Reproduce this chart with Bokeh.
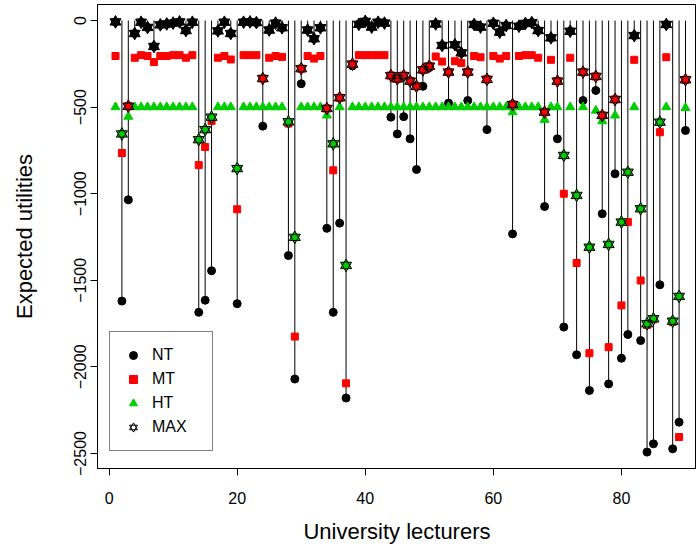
from bokeh.plotting import figure
from bokeh.models import Range1d, Legend, LegendItem, ColumnDataSource, FixedTicker
from bokeh.embed import file_html
from bokeh.resources import INLINE

lecturer = list(range(1, 91))
nt = [-8, -1620, -1035, -75, -10, -40, -150, -25, -20, -15,
      -8, -58, -10, -1685, -1615, -1445, -60, -10, -75, -1635,
      -10, -8, -12, -610, -55, -15, -42, -1357, -2070, -365,
      -55, -105, -42, -1200, -1685, -1170, -2180, -262, -22, -5,
      -38, -10, -15, -558, -655, -555, -683, -860, -380, -272,
      -20, -144, -477, -140, -187, -462, -23, -38, -630, -16,
      -67, -29, -1232, -33, -17, -12, -58, -1074, -100, -683,
      -1770, -62, -1930, -462, -2136, -404, -1116, -2098, -885, -1950,
      -1813, -87, -1848, -2492, -2444, -1526, -23, -2473, -2319, -635]
mt = [-205, -765, -495, -215, -200, -205, -240, -205, -205, -200,
      -200, -215, -200, -835, -730, -580, -215, -205, -225, -1090,
      -200, -200, -200, -335, -215, -205, -210, -595, -1825, -278,
      -205, -220, -205, -508, -865, -446, -2095, -252, -200, -200,
      -200, -200, -200, -318, -337, -318, -350, -380, -285, -264,
      -208, -237, -298, -235, -246, -298, -205, -212, -340, -205,
      -220, -205, -485, -205, -200, -200, -215, -529, -227, -350,
      -1000, -215, -1400, -298, -1921, -323, -548, -1886, -456, -1645,
      -1164, -227, -1501, -1758, -1725, -645, -212, -1740, -2405, -342]
ht = [-500, -655, -555, -500, -500, -500, -500, -500, -500, -500,
      -500, -500, -500, -688, -630, -558, -500, -500, -500, -855,
      -500, -500, -500, -500, -500, -500, -500, -585, -1252, -500,
      -500, -500, -500, -548, -712, -500, -1414, -500, -500, -500,
      -500, -500, -500, -500, -500, -500, -500, -500, -500, -500,
      -500, -500, -500, -500, -500, -500, -500, -500, -500, -500,
      -500, -500, -529, -500, -500, -500, -500, -573, -500, -500,
      -779, -500, -1010, -500, -1309, -520, -581, -1293, -548, -1164,
      -876, -500, -1087, -1751, -1722, -587, -500, -1736, -1593, -505]
series_names = ["NT", "MT", "HT", "MAX"]
x_ticks = [0, 20, 40, 60, 80]
y_ticks = [0, -500, -1000, -1500, -2000, -2500]

BLACK = "#000000"
RED = "#FF0000"
GREEN = "#00CD00"
colors = [BLACK, RED, GREEN]

mx, mcol = [], []
for a, b, c in zip(nt, mt, ht):
    vals = [a, b, c]
    k = vals.index(max(vals))
    mx.append(vals[k])
    mcol.append(colors[k])

src = ColumnDataSource(dict(x=lecturer, nt=nt, mt=mt, ht=ht, mx=mx, mcol=mcol,
                            zero=[0] * len(lecturer)))

FONT = "Liberation Sans"
p = figure(width=696, height=549, output_backend="svg", toolbar_location=None,
           x_range=Range1d(-1.81, 91.72), y_range=Range1d(-2586.6, 92.4),
           min_border_left=97, min_border_right=0, min_border_top=4,
           min_border_bottom=81)
p.grid.visible = False
p.outline_line_color = "black"
p.outline_line_width = 1
p.background_fill_color = "white"
p.border_fill_color = "white"

p.segment(x0="x", y0="zero", x1="x", y1="nt", source=src, line_color="black", line_width=1)
r_nt = p.scatter("x", "nt", source=src, marker="circle", size=8, color=BLACK)
r_mt = p.scatter("x", "mt", source=src, marker="square", size=7, color=RED)
r_ht = p.scatter("x", "ht", source=src, marker="triangle", size=9, color=GREEN)
p.scatter("x", "mx", source=src, marker="triangle", size=11, fill_color="mcol",
          line_alpha=0)
p.scatter("x", "mx", source=src, marker="inverted_triangle", size=11, fill_color="mcol",
          line_alpha=0)
o_up = p.scatter("x", "mx", source=src, marker="triangle", size=11, fill_alpha=0,
                 line_color="black", line_width=1)
o_dn = p.scatter("x", "mx", source=src, marker="inverted_triangle", size=11, fill_alpha=0,
                 line_color="black", line_width=1)

legend = Legend(items=[LegendItem(label=series_names[0], renderers=[r_nt]),
                       LegendItem(label=series_names[1], renderers=[r_mt]),
                       LegendItem(label=series_names[2], renderers=[r_ht]),
                       LegendItem(label=series_names[3], renderers=[o_up, o_dn])],
                location=(12, 17), orientation="vertical")
legend.border_line_color = "black"
legend.border_line_width = 1
legend.background_fill_color = "white"
legend.background_fill_alpha = 1
legend.label_text_font = FONT
legend.label_text_font_size = "16px"
legend.label_text_color = "black"
legend.glyph_width = 20
legend.glyph_height = 20
legend.label_height = 20
legend.label_width = 47
legend.label_standoff = 9
legend.spacing = 4
legend.padding = 13
legend.margin = 0
p.add_layout(legend)

for ax in (p.xaxis[0], p.yaxis[0]):
    ax.axis_line_color = "black"
    ax.major_tick_line_color = "black"
    ax.minor_tick_line_color = None
    ax.major_tick_in = 0
    ax.major_tick_out = 7
    ax.major_label_text_font = FONT
    ax.major_label_text_font_size = "16px"
    ax.major_label_text_color = "black"
    ax.axis_label_text_font = FONT
    ax.axis_label_text_font_size = "22px"
    ax.axis_label_text_font_style = "normal"
    ax.axis_label_text_color = "black"

p.xaxis[0].ticker = FixedTicker(ticks=x_ticks)
p.yaxis[0].ticker = FixedTicker(ticks=y_ticks)
p.xaxis[0].axis_label = "University lecturers"
p.yaxis[0].axis_label = "Expected utilities"
p.xaxis[0].major_label_standoff = 16
p.yaxis[0].major_label_standoff = 4
p.xaxis[0].axis_label_standoff = 12
p.yaxis[0].axis_label_standoff = 35
p.yaxis[0].major_label_orientation = "vertical"

open("out.html", "w").write(file_html(p, INLINE))
